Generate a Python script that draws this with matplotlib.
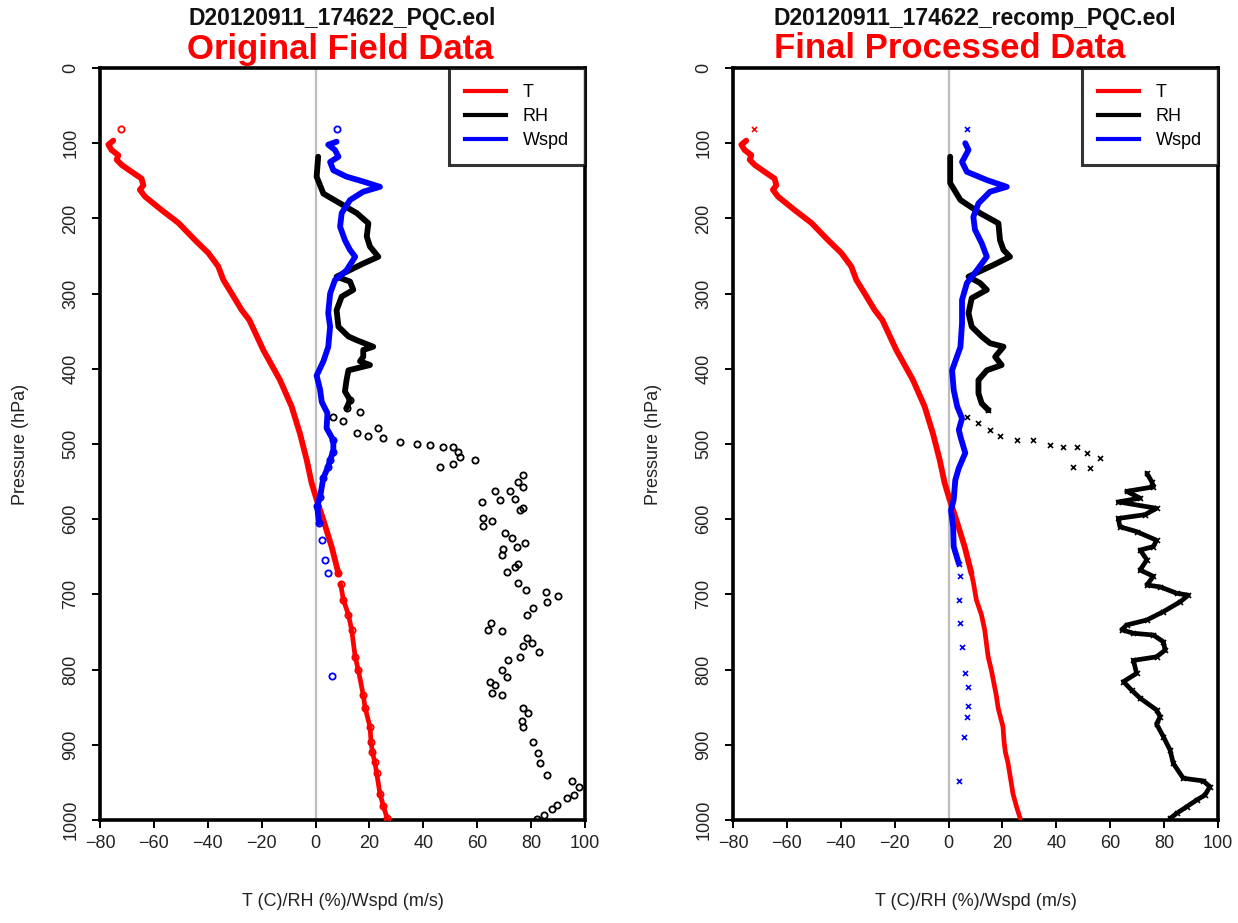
import matplotlib
matplotlib.use("Agg")
import matplotlib.pyplot as plt
from matplotlib.lines import Line2D

plt.rcParams['font.family'] = ['Liberation Sans', 'DejaVu Sans']

# ---------------- data (pressure hPa, value) ----------------
# Temperature (same profile in both panels)
T_top_p = [81]
T_top_v = [-72.3]
T_p = [96.6, 102, 109, 116, 122, 129, 138, 147, 156, 162, 171, 189, 206, 229, 246,
       264, 282, 300, 322, 335, 375, 415, 450, 486, 521, 552, 574, 601, 637, 654, 672,
       686, 707, 727, 747, 783, 801, 834, 851, 876, 896, 910, 923, 938, 965, 982, 998]
T_v = [-75.1, -76.9, -75.7, -73.2, -73.8, -71.9, -68.3, -64.6, -63.9, -65.2, -63.3,
       -57.1, -50.9, -44.7, -39.8, -36.1, -34.2, -31.1, -27.4, -24.6, -19.4, -13.2,
       -8.9, -5.8, -3.3, -1.45, 0.4, 2.9, 6.0, 7.2, 8.5,
       9.3, 10.3, 12.2, 13.4, 14.7, 15.9, 17.7, 18.4, 20.2, 20.6, 21.1, 22.0, 22.7,
       23.9, 25.2, 26.6]

# Original field data: RH
RH1_p = [118, 144.5, 167, 180, 193, 206.5, 224, 237.5, 251, 260, 277.5, 284, 295, 304,
         322, 344, 357, 362, 370.6, 375, 384, 390, 395, 402, 415, 430, 441.5, 452.5,
         457, 464, 470, 479, 486, 490, 492, 497, 500, 501, 503.5, 503.5, 510, 517, 521,
         526, 531, 541, 550, 557, 562, 563, 573.5, 574, 577, 585.5, 588, 599, 603, 609,
         619, 625.5, 632, 636.5, 639, 647.5, 659, 663, 670, 685, 694, 697, 702, 710,
         718.5, 727, 738.5, 747, 749, 758, 765, 768.6, 777, 783, 786.6, 800.5, 809.5,
         816, 820.5, 831.5, 834, 851.6, 858, 869, 876, 896, 910.5, 924, 940, 948,
         955.6, 967, 971, 980, 986, 993, 999]
RH1_v = [0.97, 0.4, 2.9, 9.1, 15.3, 19.6, 19.0, 20.2, 23.3, 17.7, 7.8, 12.8, 14.0, 9.7,
         7.8, 8.5, 12.2, 15.3, 21.4, 17.7, 17.7, 16.5, 20.2, 12.2, 11.5, 10.9, 12.8,
         11.5, 16.5, 6.6, 10.3, 23.3, 15.3, 19.6, 25.2, 31.4, 37.5, 42.5, 47.4, 51.1,
         53.0, 53.6, 59.2, 51.1, 46.2, 77.1, 75.3, 77.1, 72.2, 66.6, 74.0, 68.5, 61.6,
         77.1, 75.9, 62.3, 65.4, 62.3, 70.3, 72.8, 77.8, 74.7, 69.7, 69.1, 75.3, 74.0,
         70.9, 75.3, 78.1, 85.6, 90.1, 85.8, 80.8, 78.4, 65.1, 64.1, 69.1, 78.4, 80.2,
         77.1, 83.1, 75.9, 71.6, 69.1, 70.9, 64.8, 66.6, 65.4, 69.1, 77.1, 79.0, 76.5,
         77.1, 80.8, 82.7, 83.3, 85.8, 95.1, 97.6, 95.8, 93.3, 89.6, 87.7, 84.6, 82.2]

# Original field data: Wspd
W1_top_p = [81]
W1_top_v = [7.8]
W1_p = [98, 102, 109, 118, 125, 136, 144.5, 151, 158, 164.5, 175.5, 193, 211, 229, 242,
        251, 269, 282, 300, 326, 344, 371, 390, 409, 428, 444, 459, 479, 495, 510, 521,
        530, 545, 570, 583, 605, 628, 654, 672]
W1_v = [7.8, 4.7, 7.2, 8.5, 5.4, 6.6, 11.5, 17.7, 23.9, 17.7, 12.8, 9.7, 9.1, 10.9, 12.8,
        14.7, 11.5, 7.2, 5.4, 4.7, 5.4, 4.7, 2.9, 0.4, 1.7, 2.3, 4.4, 4.1, 6.6, 6.6, 5.4,
        4.7, 2.9, 1.7, 0.6, 1.3, 2.3, 3.5, 4.5]
W1_out_p = [808]
W1_out_v = [6.0]

# Final processed data: RH
RH2_p = [118, 153, 175.5, 193, 206.5, 229, 242, 251, 262, 277.5, 286, 295, 306, 326, 344,
         357, 366, 370.6, 384, 395, 402, 415, 432.6, 446, 455,
         464, 472.5, 481, 490, 495, 495, 501, 503.5, 503.5, 512, 519, 530, 532,
         539, 550, 557, 563, 572, 577, 585.5, 594, 599, 610, 616.5, 628, 636.5, 641,
         654, 667.5, 676, 687.5, 690, 698.5, 701, 710, 723, 734, 740.7, 747, 751.7, 754,
         763, 774, 783, 787.8, 805, 816, 827.5, 838, 853.7, 862.5, 872.5, 889, 907,
         924.6, 944.5, 948, 955.6, 967, 973.4, 982.3, 991, 998]
RH2_v = [0.6, 0.6, 4.4, 11.7, 18.5, 19.1, 20.4, 22.8, 16.6, 7.4, 11.7, 14.2, 8.6, 7.4,
         8.6, 12.3, 15.4, 20.4, 17.3, 19.7, 14.2, 11.1, 11.1, 12.3, 14.8,
         6.8, 11.1, 15.4, 19.1, 25.3, 31.4, 37.6, 42.6, 47.5, 51.2, 56.2, 46.3, 52.5,
         73.6, 75.4, 76.0, 66.1, 71.1, 63.0, 77.2, 72.9, 63.0, 63.6, 69.8, 77.2, 76.0,
         71.1, 73.6, 71.1, 76.0, 73.6, 78.5, 84.7, 89.0, 85.9, 79.7, 73.6, 66.1, 64.3,
         68.6, 76.0, 79.7, 80.4, 77.2, 68.6, 69.8, 64.9, 68.0, 71.1, 77.2, 78.5, 77.2,
         79.7, 82.2, 83.4, 87.1, 94.5, 97.0, 95.1, 92.1, 88.4, 84.7, 82.2]

# Final processed data: Wspd
W2_top_p = [81]
W2_top_v = [6.8]
W2_p = [100, 109, 125, 138, 149, 158, 164.5, 180, 198, 215, 233, 251, 269, 286, 308.5,
        339.5, 371, 402, 428, 450, 466, 481, 490, 512, 532, 548, 574, 588, 610, 636.5,
        659, 676, 707, 738.5, 769.5, 805, 822.6, 849, 862.5, 889]
W2_v = [6.2, 7.4, 5.0, 6.8, 14.2, 21.6, 15.4, 11.1, 9.2, 9.8, 12.3, 14.2, 10.5, 6.8, 5.0,
        5.0, 4.4, 1.3, 1.9, 3.2, 5.0, 3.8, 4.4, 6.2, 3.8, 2.5, 1.9, 0.9, 1.7, 1.9,
        3.8, 4.4, 3.8, 4.4, 5.0, 6.2, 7.4, 7.4, 6.8, 5.6]
W2_out_p = [948]
W2_out_v = [3.8]

titles_top = ["D20120911_174622_PQC.eol", "D20120911_174622_recomp_PQC.eol"]
titles_red = ["Original Field Data", "Final Processed Data"]
legend_labels = ["T", "RH", "Wspd"]
xticks = [-80, -60, -40, -20, 0, 20, 40, 60, 80, 100]
yticks = [0, 100, 200, 300, 400, 500, 600, 700, 800, 900, 1000]

# ---------------- drawing ----------------
W, H = 1238, 923
fig = plt.figure(figsize=(W / 100, H / 100), dpi=100)
RED, BLK, BLU = '#ff0000', '#000000', '#0000ff'


def sub(p, v, pmin, pmax):
    pp, vv = [], []
    for a, b in zip(p, v):
        if pmin <= a <= pmax:
            pp.append(a)
            vv.append(b)
    return pp, vv


def dense(ax, p, v, color, pmin, pmax, lw=4.2):
    pp, vv = sub(p, v, pmin, pmax)
    ax.plot(vv, pp, '-', color=color, lw=lw, solid_capstyle='round',
            solid_joinstyle='round', zorder=3)


def marks(ax, p, v, color, kind, pmin=0, pmax=1100):
    pp, vv = sub(p, v, pmin, pmax)
    if kind == 'o':
        ax.plot(vv, pp, 'o', ms=4.5, mfc='none', mec=color, mew=1.3, zorder=4)
    else:
        ax.plot(vv, pp, 'x', ms=3.6, color=color, mew=1.2, zorder=4)


def setup(ax, i, cx_top, cx_red):
    ax.set_xlim(-80, 100)
    ax.set_ylim(1000, 0)
    ax.set_xticks(xticks)
    ax.set_yticks(yticks)
    ax.axvline(0, color='#bdbdbd', lw=1.6, zorder=1)
    for s in ax.spines.values():
        s.set_linewidth(2.6)
    ax.tick_params(axis='both', direction='out', length=6, width=1.4,
                   labelsize=13, colors='black', labelcolor='#222222')
    ax.tick_params(axis='x', pad=5)
    ax.tick_params(axis='y', labelrotation=90, pad=9)
    for lab in ax.get_yticklabels():
        lab.set_va('center')
    ax.set_xlabel("T (C)/RH (%)/Wspd (m/s)", fontsize=13, labelpad=29,
                  color='#222222')
    ax.set_ylabel("Pressure (hPa)", fontsize=13, labelpad=24, color='#222222')
    handles = [Line2D([], [], color=c, lw=3) for c in (RED, BLK, BLU)]
    leg = ax.legend(handles, legend_labels, loc='upper right', fontsize=13,
                    frameon=True, fancybox=False, borderaxespad=0,
                    handlelength=2.3, handletextpad=0.9, borderpad=0.9,
                    labelspacing=0.38, edgecolor='black')
    leg.get_frame().set_linewidth(2.2)
    leg.set_zorder(10)
    fig.text(cx_top / W, 1 - 18 / H, titles_top[i], ha='center', va='center',
             fontsize=16.5, fontweight='bold', color='#111111')
    fig.text(cx_red / W, 1 - 49 / H, titles_red[i], ha='center', va='center',
             fontsize=25, fontweight='bold', color=RED)


ax1 = fig.add_axes([100 / W, 1 - 820 / H, 485 / W, 752 / H])
ax2 = fig.add_axes([733 / W, 1 - 820 / H, 485 / W, 752 / H])

# left panel
dense(ax1, T_p, T_v, RED, 0, 672)
dense(ax1, T_p, T_v, RED, 686, 1000, lw=3.4)
marks(ax1, T_p, T_v, RED, 'o', 672, 1000)
marks(ax1, T_top_p, T_top_v, RED, 'o')
dense(ax1, RH1_p, RH1_v, BLK, 0, 453)
marks(ax1, RH1_p, RH1_v, BLK, 'o', 440, 1000)
dense(ax1, W1_p, W1_v, BLU, 0, 605)
marks(ax1, W1_p, W1_v, BLU, 'o', 480, 1000)
marks(ax1, W1_top_p, W1_top_v, BLU, 'o')
marks(ax1, W1_out_p, W1_out_v, BLU, 'o')
setup(ax1, 0, 342, 340)

# right panel
dense(ax2, T_p, T_v, RED, 0, 672)
dense(ax2, T_p, T_v, RED, 672, 1000, lw=3.4)
marks(ax2, T_top_p, T_top_v, RED, 'x')
dense(ax2, RH2_p, RH2_v, BLK, 0, 455)
marks(ax2, RH2_p, RH2_v, BLK, 'x', 455, 1000)
dense(ax2, RH2_p, RH2_v, BLK, 539, 1000, lw=3.4)
dense(ax2, W2_p, W2_v, BLU, 0, 660)
marks(ax2, W2_p, W2_v, BLU, 'x', 640, 1000)
marks(ax2, W2_top_p, W2_top_v, BLU, 'x')
marks(ax2, W2_out_p, W2_out_v, BLU, 'x')
setup(ax2, 1, 975, 950)

fig.savefig("out.png", dpi=100, facecolor='white')
